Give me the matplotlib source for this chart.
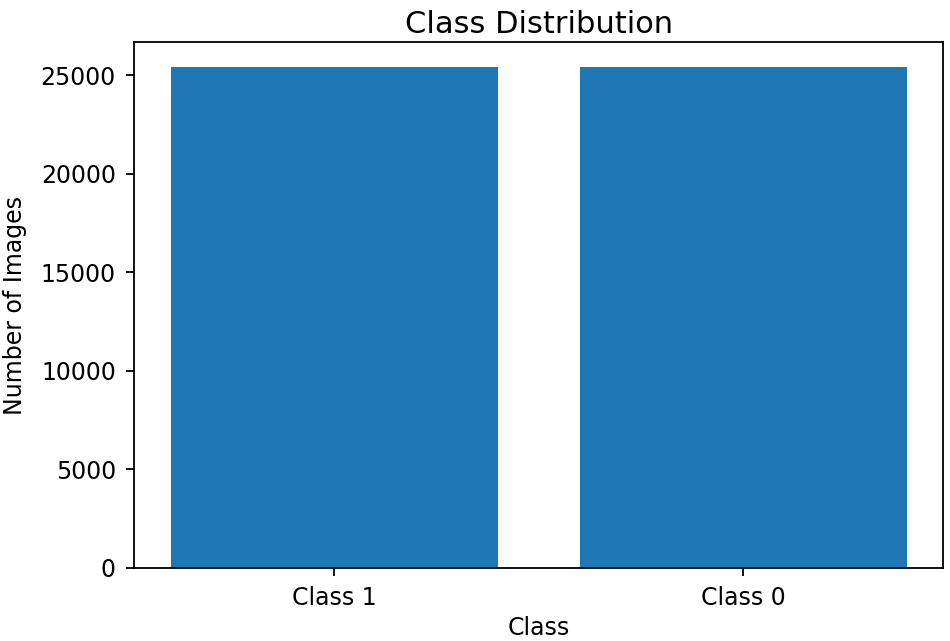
import matplotlib
matplotlib.use('Agg')
import matplotlib.pyplot as plt

# class counts
classes = ['Class 1', 'Class 0']
counts = [25400, 25400]

plt.rcParams['font.size'] = 17

fig = plt.figure(figsize=(9.5, 6.41), dpi=100)
ax = fig.add_axes([0.141, 0.114, 0.852, 0.82])
ax.bar(classes, counts, color='#1f77b4')
ax.set_title('Class Distribution', fontsize=22, pad=7)
ax.set_xlabel('Class', labelpad=4)
ax.set_ylabel('Number of Images', labelpad=10)
ax.set_yticks([0, 5000, 10000, 15000, 20000, 25000])
ax.tick_params(length=6, width=1.3, pad=7)
for s in ax.spines.values():
    s.set_linewidth(1.3)

fig.savefig('out.png', dpi=100)
